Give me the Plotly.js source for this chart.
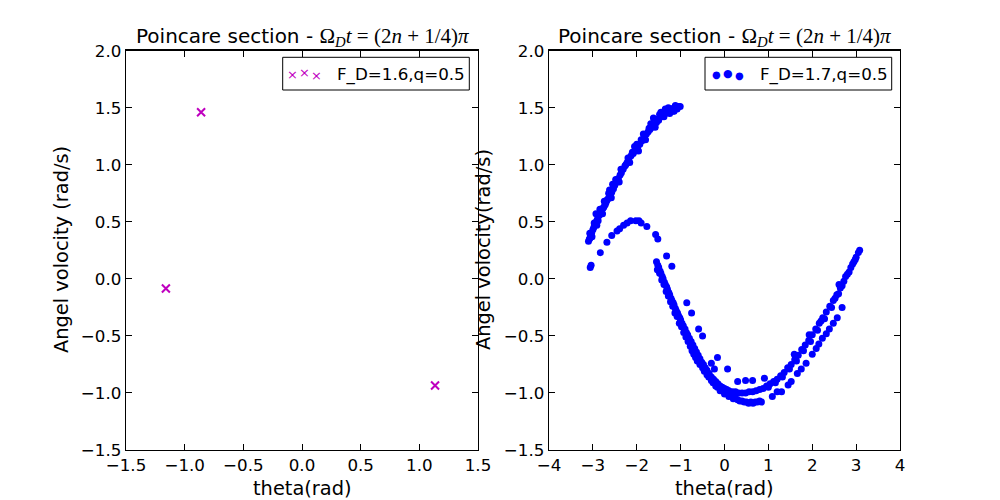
<!DOCTYPE html>
<html>
<head>
<meta charset="utf-8">
<script src="https://cdn.plot.ly/plotly-3.0.1.min.js"></script>
<style>html,body{margin:0;padding:0;background:#fff;}#chart{width:1000px;height:500px;}</style>
</head>
<body>
<div id="chart"></div>
<script>
// ---- Left panel: F_D = 1.6, q = 0.5 ----
const thetaL = [-1.16, -0.86, 1.134];
const omegaL = [-0.085, 1.46, -0.935];

// ---- Right panel: F_D = 1.7, q = 0.5 (theta, omega) pairs ----
const upperBranch = [
  [-3.10,0.33],[-3.08,0.35],[-3.05,0.38],[-3.03,0.40],[-3.00,0.43],[-2.98,0.45],[-2.95,0.48],
  [-2.92,0.50],[-2.90,0.52],[-2.87,0.55],[-2.85,0.56],[-2.82,0.58],[-2.80,0.60],[-2.77,0.62],
  [-2.75,0.63],[-2.72,0.65],[-2.70,0.67],[-2.66,0.70],[-2.62,0.72],[-2.60,0.74],[-2.57,0.76],
  [-2.53,0.79],[-2.50,0.82],[-2.46,0.85],[-2.42,0.88],[-2.38,0.91],[-2.35,0.93],[-2.31,0.96],
  [-2.27,0.99],[-2.22,1.02],[-2.18,1.05],[-2.13,1.08],[-2.08,1.10],[-2.03,1.12],[-1.98,1.15],
  [-1.93,1.18],[-1.88,1.21],[-1.83,1.24],[-1.78,1.27],[-1.74,1.29],[-1.70,1.31],[-1.65,1.33],
  [-1.60,1.35],[-1.55,1.37],[-1.50,1.39],[-1.45,1.42],[-1.40,1.44],[-1.35,1.45],[-1.30,1.47],
  [-1.25,1.48],[-1.20,1.49],[-1.15,1.50],[-1.10,1.50],[-1.05,1.51],[-1.01,1.51],
  [-2.93,0.57],[-2.55,0.83],[-2.05,1.16],[-1.62,1.41],[-1.35,1.49],[-1.25,1.45],[-2.62,0.78],
  [-1.45,1.46],[-1.15,1.47],[-3.06,0.36],[-2.88,0.51],[-2.68,0.69],[-2.44,0.86],[-2.25,1.00],
  [-2.10,1.11],[-1.90,1.22],[-1.72,1.32],[-1.52,1.40],[-1.32,1.48],[-1.08,1.49],
  [-3.07,0.40],[-2.97,0.49],[-2.84,0.61],[-2.74,0.68],[-2.64,0.75],[-2.48,0.87],[-2.36,0.96],
  [-2.20,1.06],[-2.00,1.18],[-1.85,1.27],[-1.68,1.36],[-1.48,1.44],[-1.28,1.50],[-1.12,1.52],
  [-3.02,0.37],[-2.91,0.47],[-2.78,0.57],[-2.58,0.71],[-2.40,0.85],[-2.16,1.02],[-1.96,1.12],
  [-1.80,1.22],[-1.58,1.33],[-1.38,1.42],[-1.18,1.47]
];
const middleArch = [
  [-3.06,0.10],[-3.04,0.12],[-2.83,0.23],[-2.68,0.32],[-2.57,0.38],[-2.45,0.42],[-2.39,0.44],
  [-2.30,0.47],[-2.22,0.49],[-2.14,0.51],[-2.02,0.51],[-1.95,0.51],[-1.90,0.49],[-1.77,0.46],
  [-1.57,0.39],[-1.52,0.35],[-1.32,0.20],[-1.20,0.11]
];
const lowerBranch = [
  [-1.55,0.15],[-1.52,0.12],[-1.50,0.10],[-1.47,0.07],[-1.45,0.05],[-1.42,0.02],[-1.40,0.00],
  [-1.37,-0.03],[-1.35,-0.05],[-1.32,-0.07],[-1.30,-0.09],[-1.27,-0.12],[-1.25,-0.14],[-1.22,-0.17],
  [-1.20,-0.19],[-1.17,-0.21],[-1.15,-0.23],[-1.12,-0.26],[-1.10,-0.28],[-1.07,-0.30],[-1.05,-0.32],
  [-1.02,-0.34],[-1.00,-0.36],[-0.97,-0.39],[-0.94,-0.41],[-0.90,-0.44],[-0.87,-0.47],[-0.84,-0.49],
  [-0.80,-0.52],[-0.76,-0.55],[-0.72,-0.58],[-0.68,-0.61],[-0.64,-0.64],[-0.60,-0.67],[-0.56,-0.70],
  [-0.52,-0.73],[-0.48,-0.75],[-0.44,-0.78],[-0.40,-0.80],[-0.35,-0.83],[-0.30,-0.86],[-0.25,-0.88],
  [-0.20,-0.90],[-0.15,-0.92],[-0.10,-0.94],[-0.05,-0.95],[0.00,-0.96],[0.05,-0.97],[0.10,-0.98],
  [0.18,-0.99],[0.25,-0.99],[0.32,-1.00],[0.40,-1.00],[0.48,-1.00],[0.56,-0.99],[0.64,-0.99],
  [0.72,-0.98],[0.80,-0.97],[0.88,-0.96],[0.96,-0.94],[1.04,-0.92],[1.12,-0.90],[1.20,-0.88],
  [1.28,-0.85],[1.36,-0.82],[1.44,-0.78],[1.52,-0.75],[1.60,-0.71],[1.68,-0.67],[1.76,-0.62],
  [1.84,-0.58],[1.92,-0.54],[2.00,-0.49],[2.08,-0.44],[2.16,-0.39],[2.24,-0.34],[2.32,-0.29],
  [2.40,-0.24],[2.48,-0.19],[2.56,-0.14],[2.64,-0.08],[2.72,-0.02],[2.80,0.04],[2.88,0.10],
  [2.95,0.15],[3.00,0.19],[3.05,0.23],[3.08,0.25],
  [-1.48,0.05],[-1.38,-0.05],[-1.28,-0.15],[-1.18,-0.24],[-1.08,-0.33],[-0.98,-0.42],[-0.88,-0.51],
  [-0.78,-0.59],[-0.70,-0.66],[-0.62,-0.72],[2.20,-0.37],[2.52,-0.17],[2.76,0.02],[2.92,0.13],
  [-1.53,0.08],[-1.43,-0.01],[-1.33,-0.11],[-1.23,-0.20],[-1.13,-0.30],[-1.03,-0.39],[-0.93,-0.47],
  [-0.83,-0.55],[-0.74,-0.63],[-0.66,-0.69],[-0.56,-0.75],[-0.46,-0.81],[-0.36,-0.86],[-0.26,-0.91],
  [-0.16,-0.95],[-0.06,-0.98],[0.04,-1.00],[0.14,-1.01],[0.24,-1.02],
  [1.00,-0.95],[1.16,-0.91],[1.32,-0.86],[1.48,-0.79],[1.64,-0.72],[1.80,-0.63],[1.96,-0.55],
  [2.12,-0.45],[2.28,-0.35],[2.44,-0.25],[2.60,-0.13],[2.68,-0.06],[2.84,0.06],[2.98,0.17]
];
const lowerBand = [
  [-0.60,-0.72],[-0.50,-0.78],[-0.40,-0.84],[-0.30,-0.89],[-0.20,-0.94],[-0.10,-0.98],[0.00,-1.01],
  [0.10,-1.03],[0.20,-1.05],[0.30,-1.06],[0.40,-1.07],[0.50,-1.08],[0.60,-1.08],[0.70,-1.08],
  [0.80,-1.07],[1.09,-1.03],[1.30,-0.99],[1.45,-0.93],[1.52,-0.90],[1.66,-0.83],[1.75,-0.79],
  [1.86,-0.74],[2.00,-0.66],[2.09,-0.61],[2.15,-0.57],[2.23,-0.52],[2.32,-0.48],[2.39,-0.44],
  [2.48,-0.39],[2.57,-0.34],[2.68,-0.25],
  [0.35,-1.07],[0.45,-1.08],[0.55,-1.09],[0.65,-1.09],[0.75,-1.08]
];
const scattered = [
  [-0.86,-0.21],[-0.75,-0.30],[-0.59,-0.44],[-0.50,-0.50],[-0.16,-0.69],[-0.23,-0.79],[0.07,-0.79],
  [0.48,-0.89],[0.64,-0.89],[0.91,-0.87],[1.20,-0.99],[0.84,-1.08],[1.59,-0.66],[1.93,-0.49],
  [2.61,-0.05],[1.62,-0.69],[-0.30,-0.74],[0.30,-0.90]
];
const rightPoints = upperBranch.concat(middleArch, lowerBranch, lowerBand, scattered);
const thetaR = rightPoints.map(p => p[0]);
const omegaR = rightPoints.map(p => p[1]);

const titleText = 'Poincare section - <span style="font-family:Liberation Serif;font-size:21px">Ω<sub><i>D</i></sub><i>t</i> = (2<i>n</i> + 1/4)<i>π</i></span>';
const xLabel = 'theta(rad)';
const yLabelL = 'Angel volocity (rad/s)';
const yLabelR = 'Angel volocity(rad/s)';
const legendL = 'F_D=1.6,q=0.5';
const legendR = 'F_D=1.7,q=0.5';

const FONT = 'DejaVu Sans';
const axisCommon = {
  showline: true, linecolor: 'black', linewidth: 1.3, mirror: 'ticks',
  ticks: 'inside', ticklen: 6, tickwidth: 1, tickcolor: 'black',
  showgrid: false, zeroline: false,
  tickfont: {family: FONT, size: 16.7, color: 'black'}
};

const data = [
  {type: 'scatter', mode: 'markers', x: thetaL, y: omegaL, xaxis: 'x', yaxis: 'y',
   name: legendL, showlegend: false,
   marker: {symbol: 'x-thin', size: 8, color: '#bf00bf', line: {width: 2, color: '#bf00bf'}}},
  {type: 'scatter', mode: 'markers', x: thetaR, y: omegaR, xaxis: 'x2', yaxis: 'y2',
   name: legendR, showlegend: false,
   marker: {symbol: 'circle', size: 7, color: '#0000ff', line: {width: 0}}}
];

const layout = {
  width: 1000, height: 500,
  margin: {l: 0, r: 0, t: 0, b: 0},
  paper_bgcolor: 'white', plot_bgcolor: 'white',
  showlegend: false,
  font: {family: FONT, color: 'black'},
  xaxis: Object.assign({}, axisCommon, {domain: [0.126, 0.478], range: [-1.5, 1.5], dtick: 0.5, tick0: 0, tickformat: '.1f', anchor: 'y'}),
  yaxis: Object.assign({}, axisCommon, {domain: [0.1, 0.8986], range: [-1.5, 2.0], dtick: 0.5, tick0: 0, tickformat: '.1f', anchor: 'x'}),
  xaxis2: Object.assign({}, axisCommon, {domain: [0.549, 0.900], range: [-4, 4], dtick: 1, tick0: 0, anchor: 'y2'}),
  yaxis2: Object.assign({}, axisCommon, {domain: [0.1, 0.8986], range: [-1.5, 2.0], dtick: 0.5, tick0: 0, tickformat: '.1f', anchor: 'x2'}),
  shapes: [
    {type: 'rect', xref: 'paper', yref: 'paper', x0: 0.2827, x1: 0.4693, y0: 0.82, y1: 0.8854, line: {color: 'black', width: 1}, fillcolor: 'white'},
    {type: 'rect', xref: 'paper', yref: 'paper', x0: 0.705, x1: 0.8917, y0: 0.82, y1: 0.8854, line: {color: 'black', width: 1}, fillcolor: 'white'}
  ],
  annotations: [
    {xref: 'paper', yref: 'paper', x: 0.302, y: 0.926, text: titleText, showarrow: false, xanchor: 'center', yanchor: 'middle', font: {family: FONT, size: 20}},
    {xref: 'paper', yref: 'paper', x: 0.7245, y: 0.926, text: titleText, showarrow: false, xanchor: 'center', yanchor: 'middle', font: {family: FONT, size: 20}},
    {xref: 'paper', yref: 'paper', x: 0.302, y: 0.023, text: xLabel, showarrow: false, xanchor: 'center', yanchor: 'middle', font: {family: FONT, size: 19.4}},
    {xref: 'paper', yref: 'paper', x: 0.7245, y: 0.023, text: xLabel, showarrow: false, xanchor: 'center', yanchor: 'middle', font: {family: FONT, size: 19.4}},
    {xref: 'paper', yref: 'paper', x: 0.061, y: 0.5, text: yLabelL, textangle: -90, showarrow: false, xanchor: 'center', yanchor: 'middle', font: {family: FONT, size: 19.4}},
    {xref: 'paper', yref: 'paper', x: 0.483, y: 0.5, text: yLabelR, textangle: -90, showarrow: false, xanchor: 'center', yanchor: 'middle', font: {family: FONT, size: 19.4}},
    {xref: 'paper', yref: 'paper', x: 0.335, y: 0.852, text: legendL, showarrow: false, xanchor: 'left', yanchor: 'middle', font: {family: FONT, size: 16.7}},
    {xref: 'paper', yref: 'paper', x: 0.7583, y: 0.852, text: legendR, showarrow: false, xanchor: 'left', yanchor: 'middle', font: {family: FONT, size: 16.7}},
    {xref: 'paper', yref: 'paper', x: 0.2927, y: 0.851, text: '×', showarrow: false, xanchor: 'center', yanchor: 'middle', font: {family: FONT, size: 13, color: '#bf00bf'}},
    {xref: 'paper', yref: 'paper', x: 0.3043, y: 0.855, text: '×', showarrow: false, xanchor: 'center', yanchor: 'middle', font: {family: FONT, size: 13, color: '#bf00bf'}},
    {xref: 'paper', yref: 'paper', x: 0.3167, y: 0.850, text: '×', showarrow: false, xanchor: 'center', yanchor: 'middle', font: {family: FONT, size: 13, color: '#bf00bf'}},
    {xref: 'paper', yref: 'paper', x: 0.7167, y: 0.852, text: '●', showarrow: false, xanchor: 'center', yanchor: 'middle', font: {family: FONT, size: 10, color: '#0000ff'}},
    {xref: 'paper', yref: 'paper', x: 0.7277, y: 0.854, text: '●', showarrow: false, xanchor: 'center', yanchor: 'middle', font: {family: FONT, size: 11, color: '#0000ff'}},
    {xref: 'paper', yref: 'paper', x: 0.739, y: 0.850, text: '●', showarrow: false, xanchor: 'center', yanchor: 'middle', font: {family: FONT, size: 10, color: '#0000ff'}}
  ]
};

Plotly.newPlot('chart', data, layout, {staticPlot: true, displayModeBar: false});
</script>
</body>
</html>
